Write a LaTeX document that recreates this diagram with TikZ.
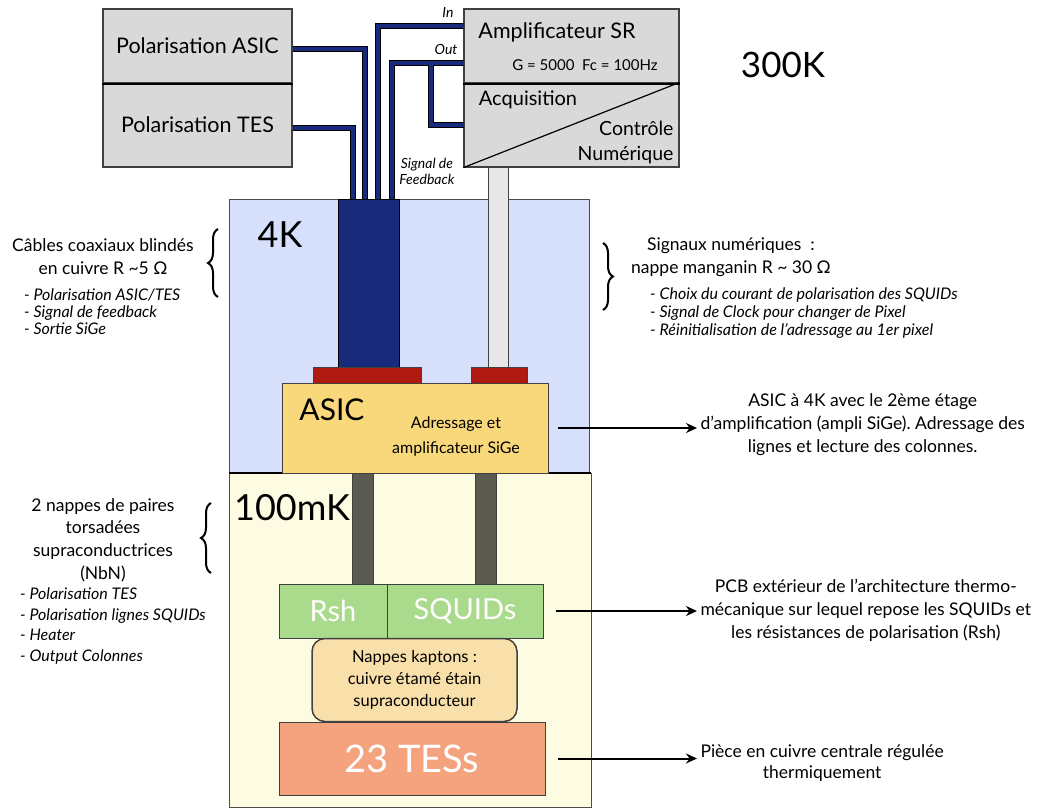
\documentclass[tikz,border=0pt]{standalone}
\usepackage{fontspec}
\setmainfont{Lato}
\usepackage{tikz}
\usetikzlibrary{arrows.meta, positioning, calc, decorations.pathreplacing}

\definecolor{boxgray}{RGB}{217,217,217}
\definecolor{cablenavy}{RGB}{24,42,124}
\definecolor{zoneblue}{RGB}{214,224,250}
\definecolor{zoneyellow}{RGB}{253,251,226}
\definecolor{padred}{RGB}{176,24,18}
\definecolor{asicyellow}{RGB}{249,216,124}
\definecolor{stemlight}{RGB}{232,232,232}
\definecolor{stemdark}{RGB}{90,90,80}
\definecolor{squidgreen}{RGB}{170,218,140}
\definecolor{kaptonorange}{RGB}{249,224,170}
\definecolor{tessalmon}{RGB}{245,163,126}

\begin{document}
\begin{tikzpicture}[
    x=1pt, y=-1pt,
    graybox/.style={rectangle, draw=black!75, fill=boxgray, line width=1.2pt, inner sep=0pt},
    part/.style={rectangle, draw=black!75, line width=1pt, inner sep=0pt, align=center},
    cable/.style={draw=cablenavy, line width=4pt, preaction={draw=black, line width=6pt}},
    labeltxt/.style={font=\fontsize{17.5}{23}\selectfont, align=center},
    listtxt/.style={font=\fontsize{16}{17}\selectfont\itshape, align=left, anchor=north west, inner sep=0pt},
    smallit/.style={font=\fontsize{14}{14}\selectfont\itshape, align=left},
    pointer/.style={-{Stealth[length=11pt, width=10pt]}, line width=2pt},
    curly/.style={decorate, decoration={brace, amplitude=10pt}, line width=2pt}
]
    \useasboundingbox (0,0) rectangle (1055,808);

    % temperature stages
    \draw[fill=zoneblue, draw=black!70, line width=1pt] (229,199) rectangle (589,473);
    \draw[fill=zoneyellow, draw=black!70, line width=1pt] (229,473) rectangle (591,807);
    \draw[line width=2pt] (229,473) -- (591,473);
    \node (k4) at (280,235) {\fontsize{36}{36}\selectfont 4K};
    \node (mk100) at (292,508) {\fontsize{36}{36}\selectfont 100mK};
    \node (k300) at (783,65) {\fontsize{35}{35}\selectfont 300K};

    % 300K instruments
    \node (polasic) [graybox, minimum width=189pt, minimum height=74pt] at (197.5,46) {\fontsize{21.5}{22}\selectfont Polarisation ASIC};
    \node (poltes) [graybox, minimum width=189pt, minimum height=84pt] at (197.5,125) {\fontsize{21.5}{22}\selectfont Polarisation TES};
    \draw[line width=2pt] (polasic.south west) -- (polasic.south east);
    \node (ampli) [graybox, minimum width=215pt, minimum height=74pt] at (571.5,46) {};
    \node (acq) [graybox, minimum width=215pt, minimum height=84pt] at (571.5,125) {};
    \draw[line width=2pt] (ampli.south west) -- (ampli.south east);
    \draw[line width=1.2pt] (acq.south west) -- (acq.north east);
    \node (amplitxt) at (557,32) {\fontsize{21.5}{22}\selectfont Amplificateur SR};
    \node (gaintxt) at (585,65) {\fontsize{15}{15}\selectfont G = 5000\ \ Fc = 100Hz};
    \node (acqtxt) at (528,100) {\fontsize{20}{20}\selectfont Acquisition};
    \node (ctrltxt) [anchor=east, align=right, font=\fontsize{19.5}{25}\selectfont] at (677,142) {Contrôle\\Numérique};

    % cable ends
    \coordinate (cin) at (464,26);
    \coordinate (cout) at (464,63);
    \coordinate (cfb) at (464,125);
    \coordinate (ctap) at (431,63);
    \coordinate (c1) at (353,201);
    \coordinate (c2) at (365,201);
    \coordinate (c3) at (378,201);
    \coordinate (c4) at (392,201);

    \draw[cable] (poltes.east |- 0,128) -| (c1);
    \draw[cable] (polasic.east |- 0,49) -| (c2);
    \draw[cable] (c3) |- (cin);
    \draw[cable] (c4) |- (cout) (ctap) |- (cfb);
    \node (inlbl) [smallit] at (448,12) {In};
    \node (outlbl) [smallit] at (446,49) {Out};
    \node (fblbl) [smallit, align=center, font=\fontsize{14}{16}\selectfont\itshape] at (427,171) {Signal de\\Feedback};

    % 4K stage
    \draw[fill=cablenavy, line width=1pt] (338,199) rectangle (399,367);
    \draw[fill=stemlight, draw=black!75, line width=1pt] (488,167) rectangle (508,367);
    \draw[fill=padred, draw=black!75, line width=1pt] (313,367) rectangle (421,383);
    \draw[fill=padred, draw=black!75, line width=1pt] (471,367) rectangle (527,383);
    \node (asic) [part, fill=asicyellow, minimum width=266pt, minimum height=90pt] at (415,428) {};
    \node (asictxt) at (332,410) {\fontsize{30}{30}\selectfont ASIC};
    \node (adrtxt) [align=center, font=\fontsize{16}{25}\selectfont] at (456,436) {Adressage et\\amplificateur SiGe};

    % 100mK stage
    \draw[fill=stemdark, draw=black!75, line width=1pt] (352,473) rectangle (373,584);
    \draw[fill=stemdark, draw=black!75, line width=1pt] (475,473) rectangle (496,584);
    \node (rsh) [part, fill=squidgreen, minimum width=108pt, minimum height=54pt, text=white, font=\fontsize{29}{29}\selectfont] at (333,611) {Rsh};
    \node (squids) [part, fill=squidgreen, minimum width=156pt, minimum height=54pt, text=white, font=\fontsize{29}{29}\selectfont] at (465,611) {SQUIDs};
    \node (kapton) [part, fill=kaptonorange, rounded corners=13pt, line width=1.5pt, minimum width=205pt, minimum height=83pt, font=\fontsize{16.5}{22}\selectfont] at (414.5,680) {Nappes kaptons :\\cuivre étamé étain\\supraconducteur};
    \node (tes) [part, fill=tessalmon, minimum width=266pt, minimum height=73pt, text=white, font=\fontsize{38}{38}\selectfont] at (412,758.5) {23 TESs};

    % descriptions
    \node (coaxtitle) [labeltxt] at (103,257) {Câbles coaxiaux blindés\\en cuivre R \textasciitilde5 Ω};
    \node (coaxlist) [listtxt] at (24,289) {- Polarisation ASIC/TES\\- Signal de feedback\\- Sortie SiGe};
    \draw[curly] (218,297) -- (218,229);

    \node (numtitle) [labeltxt] at (731,257) {Signaux numériques\ \ :\\nappe manganin R \textasciitilde{} 30 Ω};
    \node (numlist) [listtxt, font=\fontsize{16}{18}\selectfont\itshape] at (650,288) {- Choix du courant de polarisation des SQUIDs\\- Signal de Clock pour changer de Pixel\\- Réinitialisation de l'adressage au 1er pixel};
    \draw[curly] (603,243) -- (603,310);

    \node (nbntitle) [labeltxt, font=\fontsize{17.5}{22.7}\selectfont] at (103,540) {2 nappes de paires\\torsadées\\supraconductrices\\(NbN)};
    \node (nbnlist) [listtxt, font=\fontsize{16}{20.5}\selectfont\itshape] at (20,588) {- Polarisation TES\\- Polarisation lignes SQUIDs\\- Heater\\- Output Colonnes};
    \draw[curly] (211,573) -- (211,503);

    \node (asicnote) [labeltxt, anchor=west] at (697,425) {ASIC à 4K avec le 2ème étage\\d'amplification (ampli SiGe).\ Adressage des\\lignes et lecture des colonnes.};
    \node (pcbnote) [labeltxt, anchor=west] at (697,610) {PCB extérieur de l'architecture thermo-\\mécanique sur lequel repose les SQUIDs et\\les résistances de polarisation (Rsh)};
    \node (piecenote) [labeltxt, anchor=west, font=\fontsize{17.5}{21}\selectfont] at (697,763) {Pièce en cuivre centrale régulée\\thermiquement};

    \draw[pointer] ([xshift=9pt]asic.east) -- (asic.east -| asicnote.west);
    \draw[pointer] ([xshift=12pt]squids.east) -- (squids.east -| pcbnote.west);
    \draw[pointer] ([xshift=12pt]tes.east) -- (tes.east -| piecenote.west);
\end{tikzpicture}
\end{document}
